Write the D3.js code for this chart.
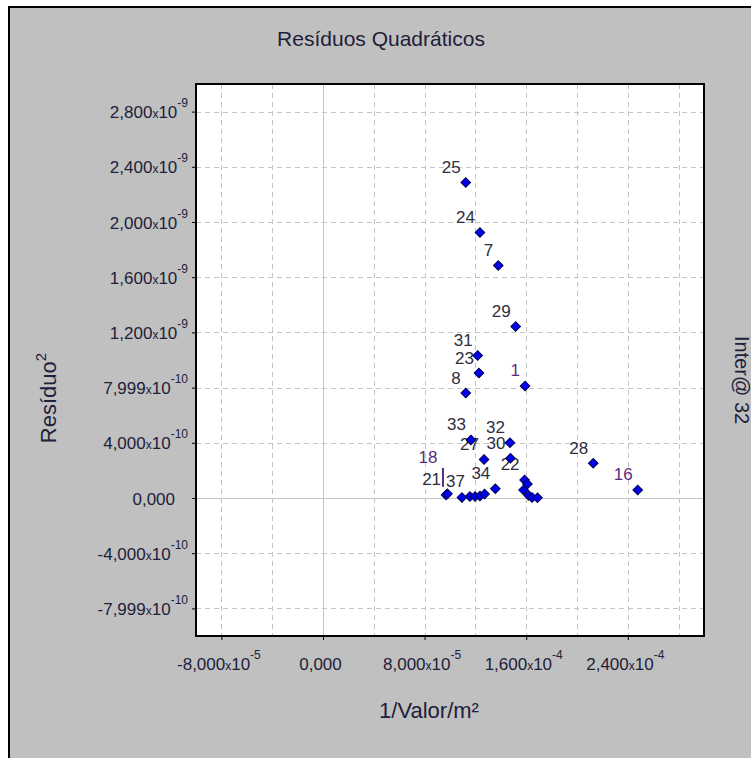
<!DOCTYPE html>
<html><head><meta charset="utf-8">
<script src="https://cdn.jsdelivr.net/npm/d3@7"></script>
<style>
body{margin:0;background:#fff;}
svg{display:block;font-family:"Liberation Sans",Arial,sans-serif;}
</style>
</head><body>
<svg id="chart" width="751" height="758"></svg>
<script>
// ---- data ----
const pointIds = ["25","24","7","29","31","23","8","1","33","32","30","27","28","16","22","34","21","37","18",
                  "","","","","","","","",""];
const xValues = [1.124e-4,1.236e-4,1.380e-4,1.517e-4,1.218e-4,1.228e-4,1.124e-4,1.591e-4,1.165e-4,1.472e-4,1.476e-4,1.268e-4,2.128e-4,2.478e-4,1.587e-4,1.357e-4,0.969e-4,1.157e-4,0.98e-4,
                 1.094e-4,1.197e-4,1.236e-4,1.272e-4,1.610e-4,1.579e-4,1.620e-4,1.646e-4,1.689e-4];
const yValues = [2.287e-9,1.924e-9,1.685e-9,1.243e-9,1.032e-9,9.05e-10,7.60e-10,8.12e-10,4.21e-10,4.01e-10,2.88e-10,2.79e-10,2.52e-10,5.8e-11,1.31e-10,6.7e-11,2.2e-11,1.1e-11,3.0e-11,
                 4e-12,1.1e-11,1.5e-11,2.9e-11,1.02e-10,5.8e-11,1.8e-11,4e-12,1.5e-12];
const xGridTicks = [-8e-5,-4e-5,0,4e-5,8e-5,1.2e-4,1.6e-4,2.0e-4,2.4e-4,2.8e-4];
const xLabelTicks = [-8e-5,0,8e-5,1.6e-4,2.4e-4];
const xTickLabels = ["-8,000x10^-5","0,000","8,000x10^-5","1,600x10^-4","2,400x10^-4"];
const yTicks = [2.8e-9,2.4e-9,2.0e-9,1.6e-9,1.2e-9,8e-10,4e-10,0,-4e-10,-8e-10];
const yTickLabels = ["2,800x10^-9","2,400x10^-9","2,000x10^-9","1,600x10^-9","1,200x10^-9","7,999x10^-10","4,000x10^-10","0,000","-4,000x10^-10","-7,999x10^-10"];
const titleText = "Resíduos Quadráticos";
const xTitle = "1/Valor/m²";
const yTitle = "Resíduo";
const sideText = "Inter@ 32";

// ---- styling ----
const purpleLabels = new Set(["1","18","16"]);
const leaderLabels = new Set(["18"]);
const textColor = "#20203a";

const svg = d3.select("#chart");
const L = 196, R = 704, T = 84, B = 636;
const x = d3.scaleLinear().domain([-1e-4, 3e-4]).range([L, R]);
const y = d3.scaleLinear().domain([-1e-9, 3e-9]).range([B, T]);

// background panel
svg.append("rect").attr("x",9).attr("y",7).attr("width",800).attr("height",800)
  .attr("fill","#c0c0c0").attr("stroke","#000").attr("stroke-width",2);

// plot area
svg.append("rect").attr("x",L).attr("y",T).attr("width",R-L).attr("height",B-T).attr("fill","#fff");

// grid
const grid = svg.append("g");
grid.selectAll(".vg").data(xGridTicks).join("line")
  .attr("x1",d=>Math.round(x(d))+0.5).attr("x2",d=>Math.round(x(d))+0.5)
  .attr("y1",T).attr("y2",B)
  .attr("stroke", "#c4c4c4")
  .attr("stroke-dasharray", d=> d===0 ? null : "5,4");
grid.selectAll(".hg").data(yTicks).join("line")
  .attr("y1",d=>Math.round(y(d))+0.5).attr("y2",d=>Math.round(y(d))+0.5)
  .attr("x1",L).attr("x2",R)
  .attr("stroke", "#c4c4c4")
  .attr("stroke-dasharray", d=> d===0 ? null : "5,4");

// tick label writer
function writeLabel(sel, str){
  sel.text(null);
  const parts = str.split("x10^");
  sel.append("tspan").attr("font-size",17).text(parts[0]);
  if(parts.length>1){
    sel.append("tspan").attr("font-size",12).text("x");
    sel.append("tspan").attr("font-size",17).text("10");
    sel.append("tspan").attr("font-size",12).attr("dy",-11).text(parts[1]);
  }
}

// y axis
const yAxis = svg.append("g").attr("transform",`translate(${L},0)`)
  .call(d3.axisLeft(y).tickValues(yTicks).tickSize(4).tickFormat((d,i)=>yTickLabels[i]));
yAxis.select(".domain").remove();
yAxis.selectAll(".tick line").attr("stroke","#000");
yAxis.selectAll(".tick text").each(function(d,i){
  const s = d3.select(this);
  const lab = yTickLabels[i];
  s.attr("x", lab.includes("^") ? -8 : -21).attr("y",6).attr("dy",null)
   .attr("fill",textColor).attr("text-anchor","end");
  writeLabel(s, lab);
});

// x axis
const xAxis = svg.append("g").attr("transform",`translate(0,${B})`)
  .call(d3.axisBottom(x).tickValues(xLabelTicks).tickSize(4).tickFormat((d,i)=>xTickLabels[i]));
xAxis.select(".domain").remove();
xAxis.selectAll(".tick line").attr("stroke","#000");
xAxis.selectAll(".tick text").each(function(d,i){
  const s = d3.select(this);
  s.attr("x",-3).attr("y",34).attr("dy",null).attr("fill",textColor).attr("text-anchor","middle");
  writeLabel(s, xTickLabels[i]);
});

// plot border
svg.append("rect").attr("x",L).attr("y",T).attr("width",R-L).attr("height",B-T)
  .attr("fill","none").attr("stroke","#000").attr("stroke-width",2);

// points data
const pts = pointIds.map((id,i)=>({id, xv:xValues[i], yv:yValues[i]}));

// labels
const labG = svg.append("g").attr("font-size",17);
pts.filter(p=>p.id!=="").forEach(p=>{
  const px = x(p.xv), py = y(p.yv);
  const lead = leaderLabels.has(p.id);
  const col = purpleLabels.has(p.id) ? "#5a2d82" : "#2e2e3e";
  labG.append("text")
    .attr("x", lead ? px-10 : px-5)
    .attr("y", lead ? py-31 : py-9.5)
    .attr("text-anchor","end")
    .attr("fill", col)
    .text(p.id);
  if(lead){
    labG.append("line").attr("x1",px-4.5).attr("x2",px-4.5)
      .attr("y1",py-26).attr("y2",py-7).attr("stroke",col).attr("stroke-width",2);
  }
});

// points
svg.append("g").selectAll("path").data(pts).join("path")
  .attr("d", d3.symbol(d3.symbolSquare, 46))
  .attr("transform", d=>`translate(${x(d.xv)},${y(d.yv)}) rotate(45)`)
  .attr("fill","#0000f0").attr("stroke","#000050").attr("stroke-width",1);

// titles
svg.append("text").attr("x",381).attr("y",46).attr("text-anchor","middle")
  .attr("font-size",21).attr("fill",textColor).text(titleText);
svg.append("text").attr("x",429).attr("y",718).attr("text-anchor","middle")
  .attr("font-size",22).attr("fill",textColor).text(xTitle);
const yt = svg.append("text").attr("transform","translate(56,398) rotate(-90)")
  .attr("text-anchor","middle").attr("font-size",22).attr("fill",textColor);
yt.append("tspan").text(yTitle);
yt.append("tspan").attr("font-size",15).attr("dy",-10).text("2");
svg.append("text").attr("transform","translate(735,336) rotate(90)")
  .attr("font-size",20).attr("fill",textColor).text(sideText);
</script>
</body></html>
